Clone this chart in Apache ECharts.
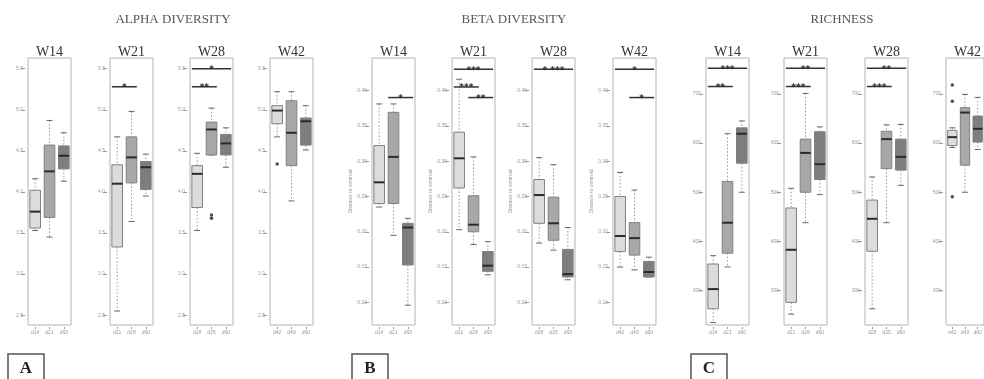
<!DOCTYPE html>
<html>
<head>
<meta charset="utf-8">
<script src="https://cdn.jsdelivr.net/npm/echarts@6/dist/echarts.min.js"></script>
<style>
  html, body { margin: 0; padding: 0; background: #fff; }
  #chart { width: 984px; height: 379px; }
</style>
</head>
<body>
<div id="chart"></div>
<script>
// ---- data ----
const sections = ['ALPHA DIVERSITY', 'BETA DIVERSITY', 'RICHNESS'];
const sectionLetters = ['A', 'B', 'C'];
const weeks = ['W14', 'W21', 'W28', 'W42'];
const dayLabels = [
  ['d14', 'd21', 'd60'],
  ['d21', 'd28', 'd60'],
  ['d28', 'd35', 'd60'],
  ['d42', 'd49', 'd60']
];

// [min, q1, median, q3, max] for each of the 3 groups in a week
const alphaW14 = [[3.53, 3.56, 3.76, 4.02, 4.16], [3.45, 3.69, 4.25, 4.57, 4.87], [4.13, 4.28, 4.44, 4.56, 4.72]];
const alphaW21 = [[2.55, 3.33, 4.10, 4.33, 4.67], [3.64, 4.11, 4.42, 4.67, 4.98], [3.95, 4.03, 4.30, 4.37, 4.46]];
const alphaW28 = [[3.53, 3.81, 4.22, 4.32, 4.47], [4.45, 4.45, 4.76, 4.85, 5.02], [4.30, 4.45, 4.59, 4.70, 4.78]];
const alphaW42 = [[4.67, 4.83, 4.99, 5.05, 5.22], [3.89, 4.32, 4.72, 5.11, 5.22], [4.51, 4.57, 4.86, 4.90, 5.05]];

const betaW14 = [[0.235, 0.240, 0.270, 0.322, 0.381], [0.195, 0.240, 0.306, 0.369, 0.381], [0.096, 0.153, 0.206, 0.212, 0.219]];
const betaW21 = [[0.203, 0.262, 0.304, 0.341, 0.416], [0.182, 0.200, 0.210, 0.251, 0.306], [0.139, 0.144, 0.152, 0.172, 0.186]];
const betaW28 = [[0.184, 0.212, 0.252, 0.274, 0.305], [0.174, 0.188, 0.212, 0.249, 0.295], [0.132, 0.136, 0.140, 0.175, 0.206]];
const betaW42 = [[0.150, 0.172, 0.194, 0.250, 0.284], [0.146, 0.167, 0.191, 0.213, 0.259], [0.136, 0.136, 0.143, 0.158, 0.164]];

const richW14 = [[235, 263, 303, 354, 371], [348, 376, 438, 522, 619], [500, 559, 619, 631, 645]];
const richW21 = [[252, 276, 383, 468, 508], [438, 500, 580, 608, 701], [495, 526, 557, 623, 633]];
const richW28 = [[263, 380, 446, 484, 531], [438, 548, 608, 624, 637], [514, 545, 572, 608, 638]];
const richW42 = [[591, 595, 612, 626, 631], [500, 555, 662, 672, 699], [587, 602, 629, 655, 693]];

// outliers: [week index, group index, value]
const alphaOutliers = [[2, 1, 3.72], [2, 1, 3.68], [3, 0, 4.34]];
const betaOutliers = [];
const richOutliers = [[3, 0, 718], [3, 0, 685], [3, 0, 491]];

// significance bars: [week index, from group, to group, level, stars]
const alphaSig = [[1, 0, 1, 5.28, '*'], [2, 0, 2, 5.50, '*'], [2, 0, 1, 5.28, '**']];
const betaSig = [
  [0, 1, 2, 0.390, '*'],
  [1, 0, 2, 0.430, '***'], [1, 0, 1, 0.405, '***'], [1, 1, 2, 0.390, '**'],
  [2, 0, 2, 0.430, '* ***'],
  [3, 0, 2, 0.430, '*'], [3, 1, 2, 0.390, '*']
];
const richSig = [
  [0, 0, 2, 752, '***'], [0, 0, 1, 715, '**'],
  [1, 0, 2, 752, '**'], [1, 0, 1, 715, '***'],
  [2, 0, 2, 752, '**'], [2, 0, 1, 715, '***']
];

// axis ranges and tick labels
const alphaTicks = [2.5, 3.0, 3.5, 4.0, 4.5, 5.0, 5.5];
const betaTicks = [0.10, 0.15, 0.20, 0.25, 0.30, 0.35, 0.40];
const richTicks = [300, 400, 500, 600, 700];
const alphaRange = [2.38, 5.63];
const betaRange = [0.068, 0.446];
const richRange = [230, 773];

// ---- layout ----
const panelLefts = [28, 110, 190, 270, 372, 452, 532, 613, 706, 784, 865, 946];
const panelWidth = 43;
const panelTop = 58;
const panelHeight = 267;
const sectionCenters = [173, 514, 842];
const letterLefts = [8, 352, 691];
const boxColors = ['#dcdcdc', '#a8a8a8', '#7e7e7e'];

const metrics = [
  { boxes: [alphaW14, alphaW21, alphaW28, alphaW42], outliers: alphaOutliers, sig: alphaSig, ticks: alphaTicks, range: alphaRange, fmt: v => v.toFixed(1), yName: '' },
  { boxes: [betaW14, betaW21, betaW28, betaW42], outliers: betaOutliers, sig: betaSig, ticks: betaTicks, range: betaRange, fmt: v => v.toFixed(2), yName: 'Distance to centroid' },
  { boxes: [richW14, richW21, richW28, richW42], outliers: richOutliers, sig: richSig, ticks: richTicks, range: richRange, fmt: v => String(v), yName: '' }
];

const grid = [], xAxis = [], yAxis = [], series = [], graphic = [];
const serif = '"Liberation Serif", "DejaVu Serif", serif';

function renderBox(params, api) {
  const cat = api.value(0);
  const p = [1, 2, 3, 4, 5].map(i => api.coord([cat, api.value(i)]));
  const cx = p[0][0];
  const hw = api.size([1, 0])[0] * 0.37;
  const dash = { stroke: '#9a9a9a', lineWidth: 1, lineDash: [1.5, 2] };
  const cap = { stroke: '#666', lineWidth: 1 };
  return {
    type: 'group',
    children: [
      { type: 'line', shape: { x1: cx, y1: p[4][1], x2: cx, y2: p[3][1] }, style: dash },
      { type: 'line', shape: { x1: cx, y1: p[1][1], x2: cx, y2: p[0][1] }, style: dash },
      { type: 'line', shape: { x1: cx - 3, y1: p[4][1], x2: cx + 3, y2: p[4][1] }, style: cap },
      { type: 'line', shape: { x1: cx - 3, y1: p[0][1], x2: cx + 3, y2: p[0][1] }, style: cap },
      { type: 'rect', shape: { x: cx - hw, y: p[3][1], width: hw * 2, height: p[1][1] - p[3][1] },
        style: { fill: boxColors[cat], stroke: '#808080', lineWidth: 1 } },
      { type: 'line', shape: { x1: cx - hw, y1: p[2][1], x2: cx + hw, y2: p[2][1] },
        style: { stroke: '#2a2a2a', lineWidth: 2 } }
    ]
  };
}

function makeSigRenderer(labels) {
  return function (params, api) {
    const a = api.coord([api.value(0), api.value(2)]);
    const b = api.coord([api.value(1), api.value(2)]);
    const hw = api.size([1, 0])[0] * 0.37;
    return {
      type: 'group',
      children: [
        { type: 'line', shape: { x1: a[0] - hw, y1: a[1], x2: b[0] + hw, y2: b[1] },
          style: { stroke: '#333', lineWidth: 1.5 } },
        { type: 'text', x: (a[0] + b[0]) / 2, y: a[1] + 1,
          style: { text: labels[params.dataIndex], fill: '#333', fontSize: 9, fontWeight: 'bold',
                   fontFamily: 'DejaVu Sans', align: 'center', verticalAlign: 'middle' } }
      ]
    };
  };
}

metrics.forEach((m, s) => {
  weeks.forEach((wk, w) => {
    const idx = s * 4 + w;
    const left = panelLefts[idx];
    grid.push({
      left: left, top: panelTop, width: panelWidth, height: panelHeight,
      show: true, borderColor: '#b4b4b4', borderWidth: 1, backgroundColor: 'transparent'
    });
    xAxis.push({
      type: 'category', gridIndex: idx, data: dayLabels[w], offset: 2,
      axisLine: { show: false },
      axisTick: { show: true, alignWithLabel: true, length: 2, lineStyle: { color: '#999' } },
      axisLabel: { fontSize: 5, color: '#999', margin: 3 },
      splitLine: { show: false }
    });
    yAxis.push({
      type: 'value', gridIndex: idx, min: m.range[0], max: m.range[1], offset: 3,
      name: m.yName, nameLocation: 'middle', nameGap: 16,
      nameTextStyle: { fontSize: 5, color: '#999' },
      axisLine: { show: false },
      axisTick: { show: true, length: 4, customValues: m.ticks, lineStyle: { color: '#999' } },
      axisLabel: { fontSize: 5, color: '#999', margin: 2, customValues: m.ticks, formatter: m.fmt },
      splitLine: { show: false }
    });
    series.push({
      type: 'custom', xAxisIndex: idx, yAxisIndex: idx,
      renderItem: renderBox,
      encode: { x: 0, y: [1, 2, 3, 4, 5] },
      data: m.boxes[w].map((b, g) => [g].concat(b)),
      silent: true
    });
    const outs = m.outliers.filter(o => o[0] === w);
    if (outs.length) {
      series.push({
        type: 'scatter', xAxisIndex: idx, yAxisIndex: idx,
        symbol: 'circle', symbolSize: 3.5, itemStyle: { color: '#222' },
        data: outs.map(o => [o[1], o[2]]), silent: true
      });
    }
    const sigs = m.sig.filter(o => o[0] === w);
    if (sigs.length) {
      series.push({
        type: 'custom', xAxisIndex: idx, yAxisIndex: idx,
        renderItem: makeSigRenderer(sigs.map(o => o[4])),
        encode: { x: [0, 1], y: 2 },
        data: sigs.map(o => [o[1], o[2], o[3]]),
        silent: true, clip: false
      });
    }
    graphic.push({
      type: 'text', x: left + panelWidth / 2, y: 45,
      style: { text: wk, fill: '#333', fontSize: 14, fontFamily: serif, align: 'center', verticalAlign: 'top' }
    });
  });
  graphic.push({
    type: 'text', x: sectionCenters[s], y: 13,
    style: { text: sections[s], fill: '#555', fontSize: 13, fontFamily: serif, align: 'center', verticalAlign: 'top' }
  });
  graphic.push({
    type: 'rect', shape: { x: letterLefts[s], y: 354, width: 36, height: 30 },
    style: { fill: 'none', stroke: '#555', lineWidth: 1.5 }
  });
  graphic.push({
    type: 'text', x: letterLefts[s] + 18, y: 369,
    style: { text: sectionLetters[s], fill: '#222', fontSize: 17, fontWeight: 'bold', fontFamily: serif,
             align: 'center', verticalAlign: 'middle' }
  });
});

const chart = echarts.init(document.getElementById('chart'), null, { renderer: 'canvas' });
chart.setOption({
  animation: false,
  backgroundColor: '#fff',
  grid: grid,
  xAxis: xAxis,
  yAxis: yAxis,
  series: series,
  graphic: graphic
});
</script>
</body>
</html>
